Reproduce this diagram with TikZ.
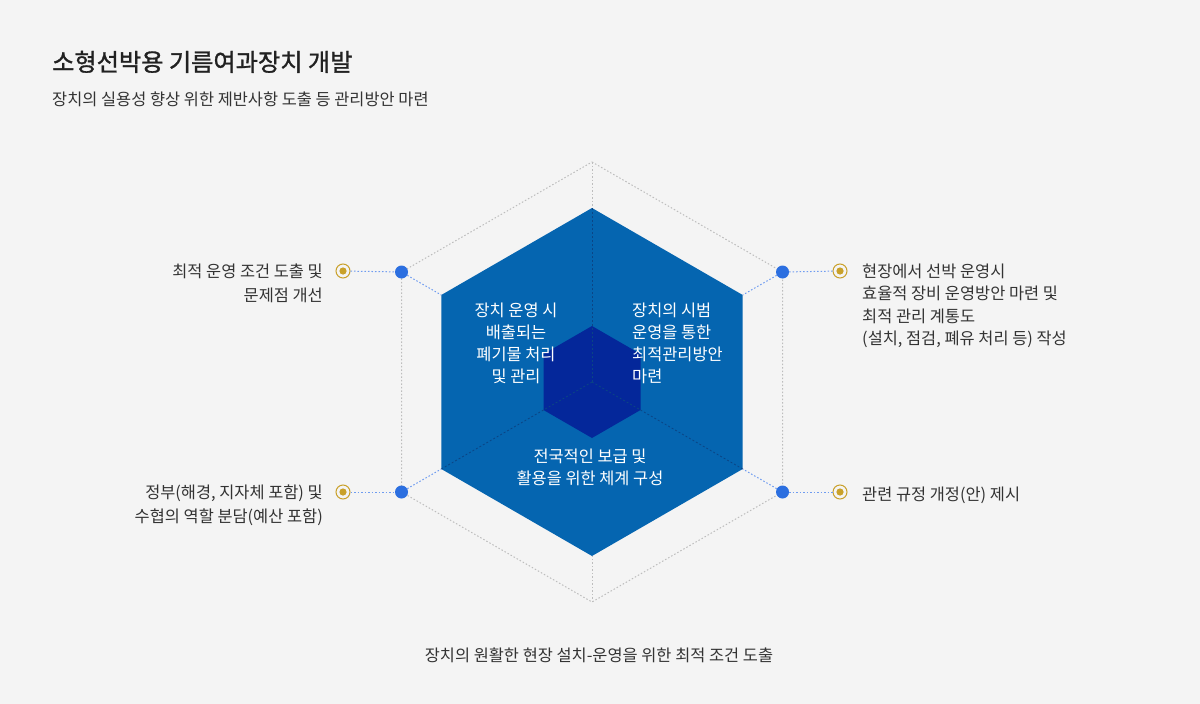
\documentclass[tikz,border=0pt]{standalone}
\usepackage{fontspec}
\setmainfont{Noto Sans CJK KR}
\newfontfamily\krtitle[FakeBold=1.2]{Noto Sans CJK KR}
\definecolor{bgc}{HTML}{F4F4F4}
\definecolor{txt}{HTML}{333333}
\definecolor{hexblue}{HTML}{0565B0}
\definecolor{hexdark}{HTML}{04279A}
\definecolor{dotblue}{HTML}{2C6FE0}
\definecolor{lineblue}{HTML}{6F9CF0}
\definecolor{linegray}{HTML}{BDBDBD}
\definecolor{gold}{HTML}{C9A12A}
\definecolor{darkdash}{HTML}{0B4585}
\tikzset{
  graydot/.style={draw=linegray, line width=1pt, dash pattern=on 1.5pt off 2pt},
  bluedot/.style={draw=lineblue, line width=1pt, dash pattern=on 1.5pt off 2pt},
  innerdash/.style={draw=darkdash, line width=0.8pt, dash pattern=on 2pt off 2pt},
  pin/.style={circle, fill=dotblue, minimum size=13pt, inner sep=0pt},
  marker/.style={circle, draw=gold, line width=1pt, fill=bgc, minimum size=14pt, inner sep=0pt,
     path picture={\fill[gold] (path picture bounding box.center) circle (3.6pt);}},
  sidetext/.style={text=txt, inner sep=0pt, font=\fontsize{16.4}{24}\selectfont},
  sidetextr/.style={text=txt, inner sep=0pt, font=\fontsize{16.4}{22.5}\selectfont},
  hextext/.style={text=white, inner sep=0pt, font=\fontsize{16.4}{22.2}\selectfont},
}
\begin{document}
\begin{tikzpicture}[x=1pt,y=-1pt]
\fill[bgc] (0,0) rectangle (1200,704);
\useasboundingbox (0,0) rectangle (1200,704);
% coordinates
\coordinate (C) at (592,382);
\coordinate (oT) at (592,162);
\coordinate (oUR) at (782.5,272);
\coordinate (oLR) at (782.5,492);
\coordinate (oB) at (592,602);
\coordinate (oLL) at (401.5,492);
\coordinate (oUL) at (401.5,272);
\coordinate (bT) at (592,208);
\coordinate (bUR) at (742.7,295);
\coordinate (bLR) at (742.7,469);
\coordinate (bB) at (592,556);
\coordinate (bLL) at (441.3,469);
\coordinate (bUL) at (441.3,295);
% outer dotted hexagon
\path[graydot] (oT) -- (oUR) -- (oLR) -- (oB) -- (oLL) -- (oUL) -- cycle;
\path[graydot] (oT) -- (bT);
\path[graydot] (oB) -- (bB);
% blue hexagon
\fill[hexblue] (bT) -- (bUR) -- (bLR) -- (bB) -- (bLL) -- (bUL) -- cycle;
% inner hexagon
\fill[hexdark] (592,326) -- (640.5,354) -- (640.5,410) -- (592,438) -- (543.5,410) -- (543.5,354) -- cycle;
% inner dashed lines
\path[innerdash] (C) -- (bT);
\path[innerdash] (C) -- (bLL);
\path[innerdash] (C) -- (bLR);
% pins and markers
\node[pin] (pUL) at (oUL) {};
\node[pin] (pLL) at (oLL) {};
\node[pin] (pUR) at (oUR) {};
\node[pin] (pLR) at (oLR) {};
\node[marker] (mUL) at (343,271) {};
\node[marker] (mLL) at (343,492) {};
\node[marker] (mUR) at (840,271) {};
\node[marker] (mLR) at (840,492) {};
\path[bluedot] (mUL) -- (pUL);
\path[bluedot] (mLL) -- (pLL);
\path[bluedot] (pUR) -- (mUR);
\path[bluedot] (pLR) -- (mLR);
\path[bluedot] (pUL) -- (bUL);
\path[bluedot] (pLL) -- (bLL);
\path[bluedot] (pUR) -- (bUR);
\path[bluedot] (pLR) -- (bLR);
% titles
\node[anchor=base west, inner sep=0pt, text=black!87, font=\krtitle\fontsize{24.2}{28}\selectfont] (title) at (52,71) {소형선박용 기름여과장치 개발};
\node[anchor=base west, inner sep=0pt, text=txt, font=\fontsize{16.4}{20}\selectfont] (sub) at (52,105) {장치의 실용성 향상 위한 제반사항 도출 등 관리방안 마련};
% side texts (base anchor = last line baseline)
\node[sidetext, anchor=base east, align=right] (tUL) at (323,301) {최적 운영 조건 도출 및\\문제점 개선};
\node[sidetext, anchor=base east, align=right] (tLL) at (323,522) {정부(해경, 지자체 포함) 및\\수협의 역할 분담(예산 포함)};
\node[sidetextr, anchor=base west, align=left] (tUR) at (862,344.5) {현장에서 선박 운영시\\효율적 장비 운영방안 마련 및\\최적 관리 계통도\\(설치, 점검, 폐유 처리 등) 작성};
\node[sidetextr, anchor=base west, align=left] (tLR) at (862,500) {관련 규정 개정(안) 제시};
\node[sidetextr, anchor=base] (tB) at (599,661) {장치의 원활한 현장 설치-운영을 위한 최적 조건 도출};
% hex texts
\node[hextext, anchor=base, align=center] (hL) at (516,382.6) {장치 운영 시\\배출되는\\폐기물 처리\\및 관리};
\node[hextext, anchor=base west, align=left] (hR) at (632,382.6) {장치의 시범\\운영을 통한\\최적관리방안\\마련};
\node[hextext, anchor=base, align=center] (hB) at (590,484.2) {전국적인 보급 및\\활용을 위한 체계 구성};
\end{tikzpicture}
\end{document}
